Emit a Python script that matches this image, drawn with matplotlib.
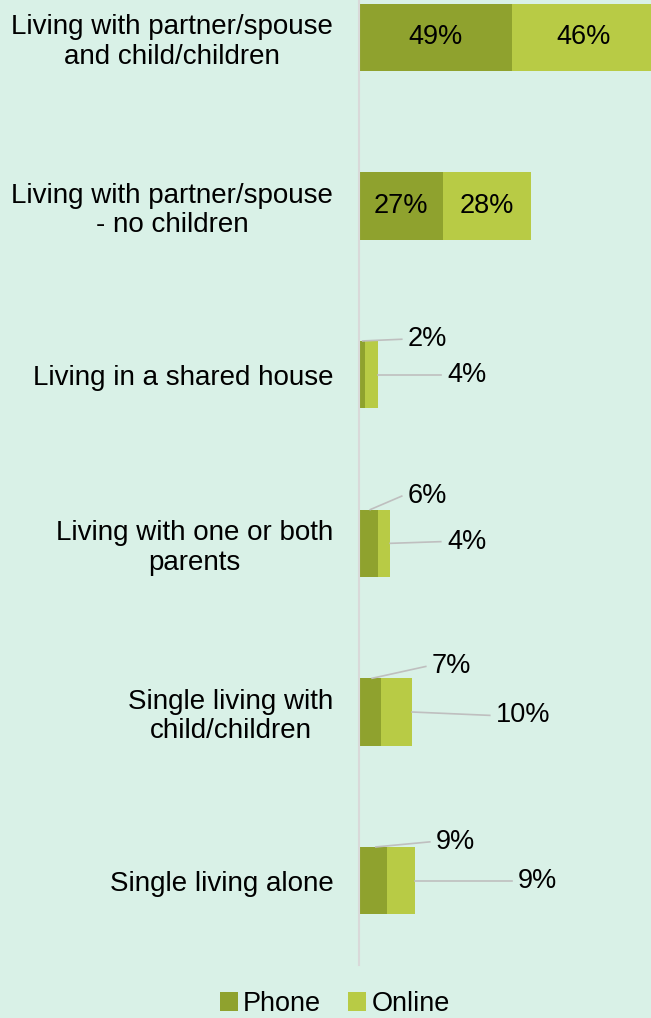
import matplotlib.pyplot as plt
import numpy as np

plt.rcParams['font.family'] = ['Liberation Sans', 'DejaVu Sans']

categories = ['Living with partner/spouse\nand child/children',
              'Living with partner/spouse\n- no children',
              'Living in a shared house',
              'Living with one or both\nparents',
              'Single living with\nchild/children',
              'Single living alone']
phone = [49, 27, 2, 6, 7, 9]
online = [46, 28, 4, 4, 10, 9]

PHONE_COL = '#8FA22E'
ONLINE_COL = '#B8CB45'
BG = '#D9F1E7'

# outside-label layout for the small bars (x in % units, dy in category units)
phone_lab_x = [None, None, 15.7, 15.7, 23.4, 24.7]
phone_lab_dy = [0, 0, -0.21, -0.28, -0.27, -0.23]
online_lab_x = [None, None, 28.2, 28.2, 43.9, 51.0]
online_lab_dy = [0, 0, 0.0, -0.01, 0.02, 0.0]

fig = plt.figure(figsize=(6.51, 10.18), dpi=100, facecolor=BG)
ax = fig.add_axes([359 / 651, 1 - 965 / 1018, 292 / 651, 1012 / 1018])
ax.set_facecolor(BG)

y = np.arange(len(categories))
h = 0.4
ax.barh(y, phone, height=h, color=PHONE_COL, label='Phone')
ax.barh(y, online, left=phone, height=h, color=ONLINE_COL, label='Online')

ax.set_xlim(0, 292 / 3.12)
ax.set_ylim(len(categories) - 0.5, -0.5)

fs = 19.5
for i in range(len(categories)):
    if phone_lab_x[i] is None:
        ax.text(phone[i] / 2, i, f'{phone[i]}%', ha='center', va='center', fontsize=fs)
        ax.text(phone[i] + online[i] / 2, i, f'{online[i]}%', ha='center', va='center', fontsize=fs)
    else:
        ty = i + phone_lab_dy[i]
        ax.text(phone_lab_x[i], ty, f'{phone[i]}%', ha='left', va='center', fontsize=fs)
        ax.plot([phone[i] * 0.6, phone_lab_x[i] - 2], [i - h / 2, ty], color='#BFBFBF', lw=1.2,
                clip_on=False)
        ty = i + online_lab_dy[i]
        ax.text(online_lab_x[i], ty, f'{online[i]}%', ha='left', va='center', fontsize=fs)
        ax.plot([phone[i] + online[i], online_lab_x[i] - 2], [i, ty], color='#BFBFBF', lw=1.2,
                clip_on=False)

ax.set_yticks(y)
ax.set_yticklabels(categories, fontsize=20, linespacing=1.17, ha='right', multialignment='center')
ax.tick_params(axis='y', length=0, pad=18.5)
ax.set_xticks([])
for s in ['top', 'right', 'bottom']:
    ax.spines[s].set_visible(False)
ax.spines['left'].set_color('#D9D9D9')
ax.spines['left'].set_linewidth(1.5)

fig.legend(loc='center', bbox_to_anchor=(335 / 651, 1 - 1004 / 1018), ncol=2, frameon=False,
           fontsize=fs, handlelength=0.65, handleheight=0.65, handletextpad=0.2,
           columnspacing=1.0, borderaxespad=0)

fig.savefig('out.png', dpi=100, facecolor=BG)
